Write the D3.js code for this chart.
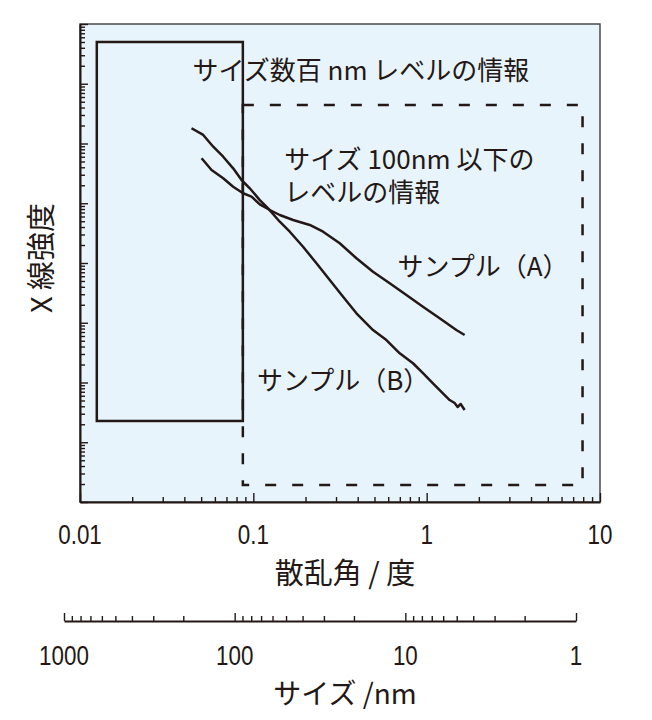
<!DOCTYPE html>
<html lang="ja">
<head>
  <meta charset="UTF-8">
  <title>散乱角とサイズ</title>
  <style>
    body { margin: 0; background: #fff; }
    svg text { fill: #231815; }
  </style>
</head>
<body>
  <svg id="chart" width="652" height="720"></svg>

  <script src="https://d3js.org/d3.v7.min.js"></script>
  <script>
    // values (angle in degrees, intensity in arbitrary units)
    const angleTicks = [0.01, 0.1, 1, 10];
    const angleLabels = ['0.01', '0.1', '1', '10'];
    const sizeTicks = [1000, 100, 10, 1];
    const sizeLabels = ['1000', '100', '10', '1'];

    const sampleAAngle = [0.0503, 0.0574, 0.0670, 0.0765, 0.0873, 0.0976, 0.109, 0.1245, 0.1421, 0.1696, 0.2117,
      0.2526, 0.3151, 0.3934, 0.4903, 0.612, 0.764, 0.952, 1.188, 1.483, 1.656];
    const sampleAIntensity = [5.65e5, 3.60e5, 2.62e5, 1.89e5, 1.47e5, 1.29e5, 9.60e4, 7.71e4, 6.36e4, 5.24e4, 4.33e4,
      3.34e4, 2.14e4, 1.20e4, 7150, 4575, 2914, 1856, 1187, 756, 624];

    const sampleBAngle = [0.0440, 0.0514, 0.0587, 0.0670, 0.0765, 0.0855, 0.0954, 0.109, 0.1217, 0.1421, 0.1623,
      0.1936, 0.2313, 0.2760, 0.3294, 0.3934, 0.4903, 0.5857, 0.699, 0.834, 0.952, 1.087, 1.241, 1.357,
      1.450, 1.509, 1.571, 1.656];
    const sampleBIntensity = [1.80e6, 1.39e6, 8.84e5, 6.01e5, 3.84e5, 2.45e5, 1.78e5, 1.13e5, 8.23e4, 4.91e4, 3.34e4,
      1.87e4, 9886, 5195, 2729, 1439, 756, 514, 308, 210, 143, 97.0, 65.9, 50.9,
      45.4, 38.9, 43.7, 34.7];

    // the two ranges marked on the plot: [angle from, angle to], [intensity low, intensity high]
    const hundredsAngle = [0.0125, 0.087];
    const hundredsIntensity = [22.7, 5.0e7];
    const belowHundredAngle = [0.087, 7.93];
    const belowHundredIntensity = [1.93, 4.41e6];

    // annotations, anchored at [angle, intensity] (left edge, first baseline)
    const notes = [
      { lines: ['サイズ数百 nm レベルの情報'], at: [0.0446, 1.16e7] },
      { lines: ['サイズ 100nm 以下の', 'レベルの情報'], at: [0.151, 3.74e5] },
      { lines: ['サンプル（A）'], at: [0.678, 6060] },
      { lines: ['サンプル（B）'], at: [0.105, 74.9] }
    ];

    const ink = '#231815';
    const jpFont = '"Noto Sans CJK JP", "Noto Sans", sans-serif';
    const numFont = '"Liberation Sans", Arial, sans-serif';

    const svg = d3.select('#chart');

    const x = d3.scaleLog().domain([0.01, 10]).range([80, 600]);
    const y = d3.scaleLog().domain([1, 1e8]).range([502, 24]);
    const size = d3.scaleLog().domain([1000, 1]).range([64, 576]);

    const isMajor = v => Math.abs(Math.log10(v) - Math.round(Math.log10(v))) < 1e-6;

    // plot area
    svg.append('rect')
      .attr('x', x(0.01))
      .attr('y', y(1e8))
      .attr('width', x(10) - x(0.01))
      .attr('height', y(1) - y(1e8))
      .attr('fill', '#e8f4fc')
      .attr('stroke', '#4a4a4a')
      .attr('stroke-width', 1.5);

    // bottom (angle) axis, ticks pointing in
    const xAxis = svg.append('g')
      .attr('transform', `translate(0,${y(1)})`)
      .call(d3.axisBottom(x).tickValues(x.ticks()).tickSize(-5).tickSizeOuter(0).tickFormat(''));
    xAxis.selectAll('.tick line').attr('y2', d => isMajor(d) ? -9 : -5);

    // left (intensity) axis, no labels
    const yAxis = svg.append('g')
      .attr('transform', `translate(${x(0.01)},0)`)
      .call(d3.axisLeft(y).tickValues(y.ticks()).tickSize(-5).tickSizeOuter(0).tickFormat(''));
    yAxis.selectAll('.tick line').attr('x2', d => isMajor(d) ? 8 : 5);

    [xAxis, yAxis].forEach(g => {
      g.select('.domain').attr('stroke', ink).attr('stroke-width', 2);
      g.selectAll('.tick line').attr('stroke', ink).attr('stroke-width', 1.4);
    });

    // marked ranges
    svg.append('rect')
      .attr('x', x(hundredsAngle[0]))
      .attr('y', y(hundredsIntensity[1]))
      .attr('width', x(hundredsAngle[1]) - x(hundredsAngle[0]))
      .attr('height', y(hundredsIntensity[0]) - y(hundredsIntensity[1]))
      .attr('fill', 'none')
      .attr('stroke', ink)
      .attr('stroke-width', 2.5);

    svg.append('rect')
      .attr('x', x(belowHundredAngle[0]))
      .attr('y', y(belowHundredIntensity[1]))
      .attr('width', x(belowHundredAngle[1]) - x(belowHundredAngle[0]))
      .attr('height', y(belowHundredIntensity[0]) - y(belowHundredIntensity[1]))
      .attr('fill', 'none')
      .attr('stroke', ink)
      .attr('stroke-width', 2.5)
      .attr('stroke-dasharray', '11 16');

    // scattering curves
    const line = d3.line().x(d => x(d[0])).y(d => y(d[1]));
    [d3.zip(sampleAAngle, sampleAIntensity), d3.zip(sampleBAngle, sampleBIntensity)].forEach(pts => {
      svg.append('path')
        .datum(pts)
        .attr('d', line)
        .attr('fill', 'none')
        .attr('stroke', ink)
        .attr('stroke-width', 2.5)
        .attr('stroke-linejoin', 'round');
    });

    const noteText = svg.selectAll('text.note')
      .data(notes)
      .join('text')
      .attr('class', 'note')
      .attr('y', d => y(d.at[1]))
      .style('font-family', jpFont)
      .style('font-size', '26px');
    noteText.selectAll('tspan')
      .data(d => d.lines.map(l => ({ l, x: x(d.at[0]) })))
      .join('tspan')
      .attr('x', d => d.x)
      .attr('dy', (d, i) => i ? 33 : 0)
      .text(d => d.l);

    // angle tick labels (narrow numerals)
    svg.selectAll('text.angle')
      .data(angleTicks)
      .join('text')
      .attr('class', 'angle')
      .attr('transform', d => `translate(${x(d)},544) scale(0.8,1)`)
      .attr('text-anchor', 'middle')
      .style('font-family', numFont)
      .style('font-size', '28px')
      .text((d, i) => angleLabels[i]);

    svg.append('text')
      .attr('x', 345)
      .attr('y', 584)
      .attr('text-anchor', 'middle')
      .style('font-family', jpFont)
      .style('font-size', '29px')
      .text('散乱角 / 度');

    svg.append('text')
      .attr('transform', 'translate(52,258) rotate(-90)')
      .attr('text-anchor', 'middle')
      .style('font-family', jpFont)
      .style('font-size', '29px')
      .text('X 線強度');

    // size axis below
    const sAxis = svg.append('g')
      .attr('transform', 'translate(0,621)')
      .call(d3.axisBottom(size).tickValues(size.ticks()).tickSize(-5).tickSizeOuter(0).tickFormat(''));
    sAxis.selectAll('.tick line').attr('y2', d => isMajor(d) ? -8 : -5);
    sAxis.select('.domain').attr('stroke', ink).attr('stroke-width', 2);
    sAxis.selectAll('.tick line').attr('stroke', ink).attr('stroke-width', 1.4);

    svg.selectAll('text.size')
      .data(sizeTicks)
      .join('text')
      .attr('class', 'size')
      .attr('transform', d => `translate(${size(d)},665) scale(0.8,1)`)
      .attr('text-anchor', 'middle')
      .style('font-family', numFont)
      .style('font-size', '28px')
      .text((d, i) => sizeLabels[i]);

    svg.append('text')
      .attr('x', 345)
      .attr('y', 704)
      .attr('text-anchor', 'middle')
      .style('font-family', jpFont)
      .style('font-size', '28px')
      .text('サイズ /nm');
  </script>
</body>
</html>
